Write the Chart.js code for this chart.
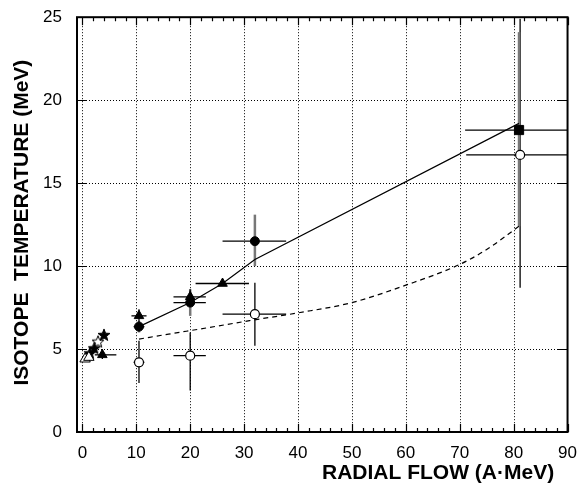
<!DOCTYPE html>
<html>
<head>
<meta charset="utf-8">
<script src="https://cdn.jsdelivr.net/npm/chart.js@4.4.1/dist/chart.umd.min.js"></script>
<style>
  html, body { margin: 0; padding: 0; background: #fff; }
  #wrap { width: 580px; height: 490px; }
</style>
</head>
<body>
<div id="wrap"><canvas id="chart" width="580" height="490"></canvas></div>
<script>
// axis ticks
const xTickValues = [0, 10, 20, 30, 40, 50, 60, 70, 80, 90];
const yTickValues = [0, 5, 10, 15, 20, 25];

// filled circles
const filledCircleX = [10.5, 20, 32];
const filledCircleY = [6.35, 7.8, 11.5];
const filledCircleXLo = [9.5, 16.9, 26];
const filledCircleXHi = [11.5, 22.9, 37.8];
const filledCircleYLo = [6.0, 7.0, 10.0];
const filledCircleYHi = [6.7, 8.6, 13.1];

// open circles
const openCircleX = [10.5, 20, 32, 81.2];
const openCircleY = [4.2, 4.6, 7.1, 16.7];
const openCircleXLo = [9.5, 16.9, 26, 71.2];
const openCircleXHi = [11.5, 22.9, 37.8, 90];
const openCircleYLo = [2.95, 2.5, 5.2, 8.7];
const openCircleYHi = [5.5, 6.0, 9.0, 24.9];

// filled triangles
const filledTriX = [3.7, 10.5, 20, 26];
const filledTriY = [4.65, 7.0, 8.15, 8.95];
const filledTriXLo = [2.3, 9.1, 16.9, 21];
const filledTriXHi = [6.3, 11.9, 22.9, 30.9];
const filledTriYLo = [4.4, 6.6, 7.9, null];
const filledTriYHi = [5.0, 7.4, 8.6, null];

// open triangles
const openTriX = [0.5, 1.2];
const openTriY = [4.4, 4.5];

// stars
const filledStarX = [1.4, 2.2, 4.0];
const filledStarY = [4.75, 5.05, 5.85];
const openStarX = [2.9];
const openStarY = [5.45];

// filled square
const squareX = [81];
const squareY = [18.2];
const squareXLo = [71];
const squareXHi = [90];
const squareYLo = [12.4];
const squareYHi = [24.1];

// curves
const solidLineX = [10.5, 20, 26, 32, 81];
const solidLineY = [6.35, 7.8, 8.95, 10.4, 18.6];
const dashLineX = [10.5, 16, 23, 31, 40, 50, 60, 70, 75, 81];
const dashLineY = [5.6, 5.9, 6.27, 6.71, 7.18, 7.8, 8.85, 10.1, 11.0, 12.4];

const pts = (xs, ys) => xs.map((x, i) => ({ x, y: ys[i] }));

function starCanvas(fill) {
  const c = document.createElement("canvas");
  c.width = 14; c.height = 14;
  const g = c.getContext("2d");
  g.beginPath();
  for (let i = 0; i < 10; i += 1) {
    const r = i % 2 === 0 ? 6.3 : 2.7;
    const a = -Math.PI / 2 + (i * Math.PI) / 5;
    const px = 7 + r * Math.cos(a);
    const py = 7.4 + r * Math.sin(a);
    if (i === 0) g.moveTo(px, py); else g.lineTo(px, py);
  }
  g.closePath();
  g.fillStyle = fill ? "#000" : "#fff";
  g.fill();
  g.lineWidth = 1;
  g.strokeStyle = "#000";
  g.stroke();
  return c;
}

const errorSets = [
  { x: filledCircleX, y: filledCircleY, xlo: filledCircleXLo, xhi: filledCircleXHi, ylo: filledCircleYLo, yhi: filledCircleYHi, xc: "#000", yc: "#777" },
  { x: openCircleX, y: openCircleY, xlo: openCircleXLo, xhi: openCircleXHi, ylo: openCircleYLo, yhi: openCircleYHi, xc: "#000", yc: "#000" },
  { x: filledTriX, y: filledTriY, xlo: filledTriXLo, xhi: filledTriXHi, ylo: filledTriYLo, yhi: filledTriYHi, xc: "#000", yc: "#000" },
  { x: squareX, y: squareY, xlo: squareXLo, xhi: squareXHi, ylo: squareYLo, yhi: squareYHi, xc: "#000", yc: "#777" },
];

const errorBars = {
  id: "errorBars",
  beforeDatasetsDraw(chart) {
    const { ctx, scales: { x, y } } = chart;
    ctx.save();
    errorSets.forEach((set) => {
      set.x.forEach((xv, i) => {
        const px = x.getPixelForValue(xv);
        const py = y.getPixelForValue(set.y[i]);
        if (set.xlo[i] != null) {
          ctx.strokeStyle = set.xc;
          ctx.lineWidth = set.xc === "#000" ? 1.3 : 2.5;
          ctx.beginPath();
          ctx.moveTo(x.getPixelForValue(set.xlo[i]), py);
          ctx.lineTo(x.getPixelForValue(set.xhi[i]), py);
          ctx.stroke();
        }
        if (set.ylo[i] != null) {
          ctx.strokeStyle = set.yc;
          ctx.lineWidth = set.yc === "#000" ? 1.3 : 2.5;
          ctx.beginPath();
          ctx.moveTo(px, y.getPixelForValue(set.ylo[i]));
          ctx.lineTo(px, y.getPixelForValue(set.yhi[i]));
          ctx.stroke();
        }
      });
    });
    ctx.restore();
  },
};

const frame = {
  id: "frame",
  beforeDatasetsDraw(chart) {
    const { ctx, chartArea: a, scales: { x, y } } = chart;
    ctx.save();
    ctx.strokeStyle = "#000";
    ctx.lineWidth = 1;
    ctx.setLineDash([1, 2]);
    xTickValues.slice(0, -1).forEach((v) => {
      const px = Math.round(x.getPixelForValue(v)) + 0.5;
      ctx.beginPath(); ctx.moveTo(px, a.top); ctx.lineTo(px, a.bottom); ctx.stroke();
    });
    yTickValues.slice(1, -1).forEach((v) => {
      const py = Math.round(y.getPixelForValue(v)) + 0.5;
      ctx.beginPath(); ctx.moveTo(a.left, py); ctx.lineTo(a.right, py); ctx.stroke();
    });
    ctx.setLineDash([]);
    ctx.lineWidth = 1.2;
    for (let v = 0; v <= 90; v += 2) {
      const px = Math.round(x.getPixelForValue(v)) + 0.5;
      const len = v % 10 === 0 ? 8 : 4;
      ctx.beginPath();
      ctx.moveTo(px, a.bottom); ctx.lineTo(px, a.bottom - len);
      ctx.moveTo(px, a.top); ctx.lineTo(px, a.top + len);
      ctx.stroke();
    }
    yTickValues.forEach((v) => {
      const py = Math.round(y.getPixelForValue(v)) + 0.5;
      ctx.beginPath();
      ctx.moveTo(a.left, py); ctx.lineTo(a.left + 10, py);
      ctx.moveTo(a.right, py); ctx.lineTo(a.right - 10, py);
      ctx.stroke();
    });
    ctx.lineWidth = 2;
    ctx.strokeRect(a.left, a.top, a.right - a.left, a.bottom - a.top);
    ctx.restore();
  },
  afterDraw(chart) {
    const { ctx, chartArea: a } = chart;
    ctx.save();
    ctx.fillStyle = "#000";
    ctx.font = "bold 21px 'Liberation Sans', Arial, sans-serif";
    ctx.textAlign = "left";
    ctx.textBaseline = "alphabetic";
    ctx.fillText("RADIAL FLOW (A\u00B7MeV)", 322, 479);
    ctx.translate(28, (a.top + a.bottom) / 2 - 2);
    ctx.rotate(-Math.PI / 2);
    ctx.textAlign = "center";
    ctx.fillText("ISOTOPE  TEMPERATURE (MeV)", 0, 0);
    ctx.restore();
  },
};

const tickFont = { family: "'Liberation Sans', Arial, sans-serif", size: 17 };

new Chart(document.getElementById("chart"), {
  type: "scatter",
  data: {
    datasets: [
      { data: pts(solidLineX, solidLineY), showLine: true, borderColor: "#000", borderWidth: 1.2, pointRadius: 0 },
      { data: pts(dashLineX, dashLineY), showLine: true, borderColor: "#000", borderWidth: 1.2, borderDash: [5, 4], pointRadius: 0, cubicInterpolationMode: "monotone" },
      { data: pts(openTriX, openTriY), pointStyle: "triangle", pointRadius: 6, backgroundColor: "#fff", borderColor: "#000", borderWidth: 1 },
      { data: pts(filledStarX, filledStarY), pointStyle: starCanvas(true) },
      { data: pts(openStarX, openStarY), pointStyle: starCanvas(false) },
      { data: pts(filledTriX, filledTriY), pointStyle: "triangle", pointRadius: 5.5, backgroundColor: "#000", borderColor: "#000", borderWidth: 1 },
      { data: pts(openCircleX, openCircleY), pointStyle: "circle", pointRadius: 4.5, backgroundColor: "#fff", borderColor: "#000", borderWidth: 1.2 },
      { data: pts(filledCircleX, filledCircleY), pointStyle: "circle", pointRadius: 4.5, backgroundColor: "#000", borderColor: "#000", borderWidth: 1 },
      { data: pts(squareX, squareY), pointStyle: "rect", pointRadius: 6.5, backgroundColor: "#000", borderColor: "#000", borderWidth: 1 },
    ],
  },
  options: {
    responsive: false,
    animation: false,
    layout: { padding: { top: 17, right: 12, left: 0, bottom: 0 } },
    plugins: { legend: { display: false }, tooltip: { enabled: false } },
    scales: {
      x: {
        type: "linear",
        min: -1,
        max: 90,
        afterBuildTicks: (scale) => { scale.ticks = xTickValues.map((value) => ({ value })); },
        afterFit: (scale) => { scale.height = 58; },
        grid: { display: false },
        border: { display: false },
        ticks: { color: "#000", font: tickFont, padding: 3, maxRotation: 0, autoSkip: false },
      },
      y: {
        min: 0,
        max: 25,
        afterBuildTicks: (scale) => { scale.ticks = yTickValues.map((value) => ({ value })); },
        afterFit: (scale) => { scale.width = 77; },
        grid: { display: false },
        border: { display: false },
        ticks: { color: "#000", font: tickFont, padding: 7 },
      },
    },
  },
  plugins: [frame, errorBars],
});
</script>
</body>
</html>
